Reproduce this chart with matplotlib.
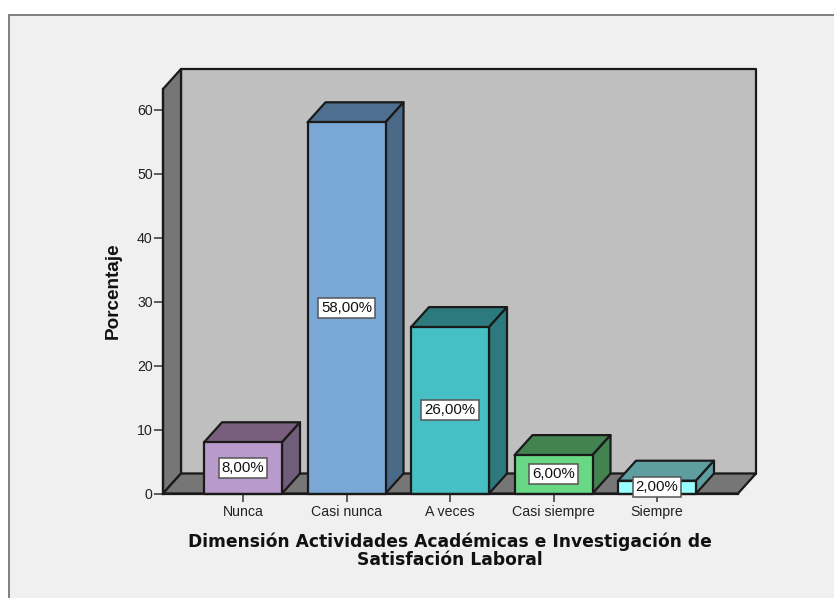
import matplotlib
matplotlib.use("Agg")
import matplotlib.pyplot as plt
from matplotlib.patches import Polygon, Rectangle

categories = ["Nunca", "Casi nunca", "A veces", "Casi siempre", "Siempre"]
values = [8, 58, 26, 6, 2]
value_labels = ["8,00%", "58,00%", "26,00%", "6,00%", "2,00%"]
front_colors = ["#b89bcb", "#7aa8d6", "#46c0c4", "#68d884", "#99ffff"]
top_colors = ["#785f7e", "#4e6f8f", "#2c7a7d", "#42834f", "#5f9ea0"]
side_colors = ["#705d7a", "#4b6a87", "#2c7a7d", "#42834f", "#5f9ea0"]
y_ticks = [0, 10, 20, 30, 40, 50, 60]

W, H = 834, 598
fig = plt.figure(figsize=(W / 100, H / 100), dpi=100, facecolor="white")
plt.rcParams["font.family"] = "Liberation Sans"

fig.add_artist(Rectangle((8.5 / W, -0.01), 1.1, (H - 14.5) / H + 0.01,
                         transform=fig.transFigure, facecolor="#f0f0f0",
                         edgecolor="#7f7f7f", linewidth=1.4, zorder=-1))

x0, x1, y0, y1 = 163.0, 738.0, 493.5, 89.0
ax = fig.add_axes([x0 / W, (H - y0) / H, (x1 - x0) / W, (y0 - y1) / H])
ax.patch.set_alpha(0)
px_x, px_y = 103.5, 6.4
ax.set_xlim((x0 - 243) / px_x, (x1 - 243) / px_x)
ax.set_ylim(0, (y0 - y1) / px_y)
dx, dy = 18 / px_x, 20 / px_y
xl, xr = ax.get_xlim()
yt = ax.get_ylim()[1]
edge = "#1a1a1a"


def poly(pts, fc, z, lw=1.6):
    ax.add_patch(Polygon(pts, closed=True, facecolor=fc, edgecolor=edge,
                         linewidth=lw, joinstyle="round", clip_on=False, zorder=z))


poly([(xl + dx, dy), (xr + dx, dy), (xr + dx, yt + dy), (xl + dx, yt + dy)], "#bfbfbf", 1)
poly([(xl, 0), (xl + dx, dy), (xl + dx, yt + dy), (xl, yt)], "#767676", 1.1)
poly([(xl, 0), (xr, 0), (xr + dx, dy), (xl + dx, dy)], "#767676", 1.2)

half = 39 / px_x
for i, v in enumerate(values):
    l, r = i - half, i + half
    poly([(l, v), (r, v), (r + dx, v + dy), (l + dx, v + dy)], top_colors[i], 2 + i * .01)
    poly([(r, 0), (r + dx, dy), (r + dx, v + dy), (r, v)], side_colors[i], 2 + i * .01)
    poly([(l, 0), (r, 0), (r, v), (l, v)], front_colors[i], 2.5 + i * .01)
    ax.text(i, v / 2, value_labels[i], ha="center", va="center", fontsize=10.8,
            color="#111111", zorder=5,
            bbox=dict(boxstyle="square,pad=0.2", facecolor="white",
                      edgecolor="#555555", linewidth=1.1))

for s in ["top", "right"]:
    ax.spines[s].set_visible(False)
for s in ["left", "bottom"]:
    ax.spines[s].set_color(edge)
    ax.spines[s].set_linewidth(1.6)
    ax.spines[s].set_zorder(3)
ax.set_yticks(y_ticks)
ax.set_xticks(range(len(categories)))
ax.set_xticklabels(categories)
ax.tick_params(axis="y", length=6.5, width=1.1, color="#333333", pad=1,
               labelsize=10.2, labelcolor="#222222")
ax.tick_params(axis="x", length=6, width=1.1, color="#333333", pad=2,
               labelsize=10.2, labelcolor="#222222")

fig.text(113.5 / W, 1 - 291 / H, "Porcentaje", rotation=90, ha="center", va="center",
         fontsize=13.6, fontweight="bold", color="#111111")
fig.text(449.5 / W, 1 - 551 / H,
         "Dimensión Actividades Académicas e Investigación de\nSatisfación Laboral",
         ha="center", va="center", fontsize=12.3, fontweight="bold", color="#111111",
         family="DejaVu Sans", linespacing=1.0)

fig.savefig("out.png", dpi=100, facecolor=fig.get_facecolor())
